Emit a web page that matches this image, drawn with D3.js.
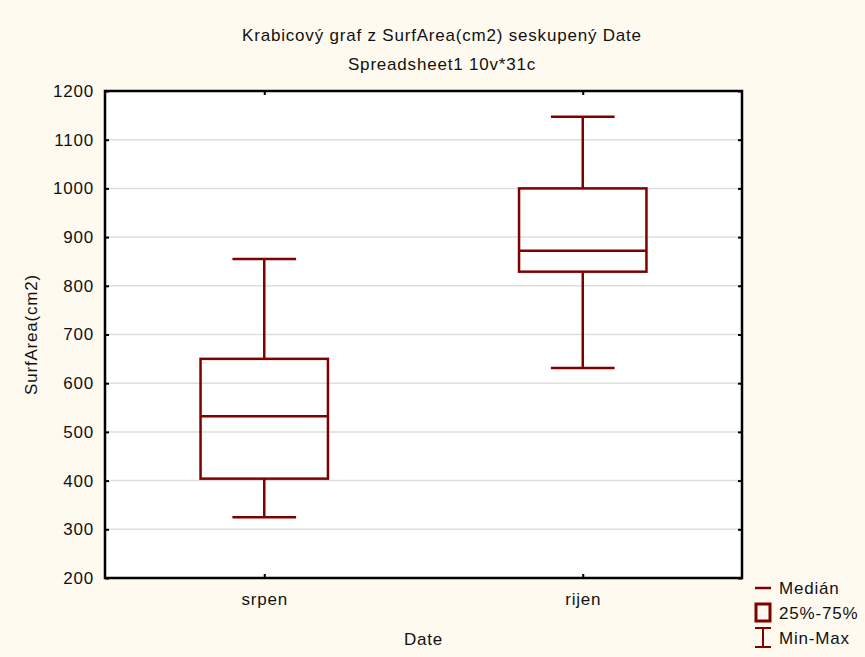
<!DOCTYPE html>
<html>
<head>
<meta charset="utf-8">
<script src="https://cdn.jsdelivr.net/npm/d3@7"></script>
<style>
  body { margin: 0; background: #fefaf0; }
  text { font-family: "Liberation Sans", Arial, sans-serif; fill: #111; letter-spacing: 0.8px; }
</style>
</head>
<body>
<div id="chart"></div>
<script>
// data
const categories = ["srpen", "rijen"]
const minVals = [325, 631]
const q1Vals = [404, 829]
const medianVals = [532, 872]
const q3Vals = [650, 1000]
const maxVals = [855, 1147]
const yTicks = [200, 300, 400, 500, 600, 700, 800, 900, 1000, 1100, 1200]
const legendItems = ["Medián", "25%-75%", "Min-Max"]

const width = 865, height = 657
const margin = {top: 91, right: 123, bottom: 79, left: 105}
const boxColor = "#800000"
const fontSize = "17px"

const svg = d3.select("#chart")
  .append("svg")
    .attr("width", width)
    .attr("height", height)

svg.append("rect")
  .attr("width", width).attr("height", height)
  .attr("fill", "#fefaf0")

const x = d3.scalePoint()
  .domain(categories)
  .range([margin.left, width - margin.right])
  .padding(0.5)

const y = d3.scaleLinear()
  .domain([200, 1200])
  .range([height - margin.bottom, margin.top])

const plotW = width - margin.left - margin.right

// plot area
svg.append("rect")
  .attr("x", margin.left).attr("y", margin.top)
  .attr("width", plotW)
  .attr("height", height - margin.top - margin.bottom)
  .attr("fill", "#fff")

// gridlines
svg.append("g")
  .selectAll("line")
  .data(yTicks.slice(1, -1))
  .join("line")
    .attr("x1", margin.left).attr("x2", width - margin.right)
    .attr("y1", d => y(d)).attr("y2", d => y(d))
    .attr("stroke", "#dedede")
    .attr("stroke-width", 1.5)

// axes, ticks pointing inwards
const yAxisL = svg.append("g")
  .attr("transform", `translate(${margin.left},0)`)
  .call(d3.axisLeft(y).tickValues(yTicks).tickFormat(d3.format("d")).tickSize(-4).tickPadding(11))
const yAxisR = svg.append("g")
  .attr("transform", `translate(${width - margin.right},0)`)
  .call(d3.axisRight(y).tickValues(yTicks).tickSize(-4).tickFormat(""))
const xAxisB = svg.append("g")
  .attr("transform", `translate(0,${height - margin.bottom})`)
  .call(d3.axisBottom(x).tickSize(-4).tickPadding(15))
const xAxisT = svg.append("g")
  .attr("transform", `translate(0,${margin.top})`)
  .call(d3.axisTop(x).tickSize(-4).tickFormat(""))

;[yAxisL, yAxisR, xAxisB, xAxisT].forEach(a => {
  a.select(".domain").remove()
  a.selectAll(".tick line").attr("stroke", "#000").attr("stroke-width", 2)
  a.selectAll("text")
    .style("font-size", fontSize)
    .style("font-family", "'Liberation Sans', Arial, sans-serif")
    .attr("fill", "#111")
})

// frame
svg.append("rect")
  .attr("x", margin.left).attr("y", margin.top)
  .attr("width", plotW)
  .attr("height", height - margin.top - margin.bottom)
  .attr("fill", "none")
  .attr("stroke", "#000")
  .attr("stroke-width", 2.5)

// boxes
const boxW = plotW * 0.2
const capW = boxW / 2
const g = svg.append("g")
  .selectAll("g")
  .data(categories.map((c, i) => ({c, min: minVals[i], q1: q1Vals[i], med: medianVals[i], q3: q3Vals[i], max: maxVals[i]})))
  .join("g")
    .attr("stroke", boxColor)
    .attr("stroke-width", 2.5)

g.append("line") // upper whisker
  .attr("x1", d => x(d.c)).attr("x2", d => x(d.c))
  .attr("y1", d => y(d.max)).attr("y2", d => y(d.q3))
g.append("line") // lower whisker
  .attr("x1", d => x(d.c)).attr("x2", d => x(d.c))
  .attr("y1", d => y(d.q1)).attr("y2", d => y(d.min))
g.append("line")
  .attr("x1", d => x(d.c) - capW / 2).attr("x2", d => x(d.c) + capW / 2)
  .attr("y1", d => y(d.max)).attr("y2", d => y(d.max))
g.append("line")
  .attr("x1", d => x(d.c) - capW / 2).attr("x2", d => x(d.c) + capW / 2)
  .attr("y1", d => y(d.min)).attr("y2", d => y(d.min))
g.append("rect")
  .attr("x", d => x(d.c) - boxW / 2)
  .attr("y", d => y(d.q3))
  .attr("width", boxW)
  .attr("height", d => y(d.q1) - y(d.q3))
  .attr("fill", "none")
g.append("line")
  .attr("x1", d => x(d.c) - boxW / 2).attr("x2", d => x(d.c) + boxW / 2)
  .attr("y1", d => y(d.med)).attr("y2", d => y(d.med))

// titles
svg.append("text")
  .attr("x", 442).attr("y", 41)
  .attr("text-anchor", "middle")
  .style("font-size", fontSize)
  .text("Krabicový graf  z SurfArea(cm2) seskupený Date")
svg.append("text")
  .attr("x", 442).attr("y", 70)
  .attr("text-anchor", "middle")
  .style("font-size", fontSize)
  .text("Spreadsheet1 10v*31c")

// axis labels
svg.append("text")
  .attr("x", (margin.left + width - margin.right) / 2)
  .attr("y", 645)
  .attr("text-anchor", "middle")
  .style("font-size", fontSize)
  .text("Date")
svg.append("text")
  .attr("transform", `translate(37,${(margin.top + height - margin.bottom) / 2}) rotate(-90)`)
  .attr("text-anchor", "middle")
  .style("font-size", fontSize)
  .text("SurfArea(cm2)")

// legend
const leg = svg.append("g").attr("transform", "translate(755,588)")
const legG = leg.selectAll("g")
  .data(legendItems)
  .join("g")
    .attr("transform", (d, i) => `translate(0,${i * 25})`)
legG.append("text")
  .attr("x", 24).attr("y", 6)
  .style("font-size", fontSize)
  .text(d => d)

leg.append("line")
  .attr("x1", 0).attr("x2", 16).attr("y1", 0).attr("y2", 0)
  .attr("stroke", boxColor).attr("stroke-width", 2.5)
leg.append("rect")
  .attr("x", 1).attr("y", 16).attr("width", 14).attr("height", 17)
  .attr("fill", "none").attr("stroke", boxColor).attr("stroke-width", 3)
const mm = leg.append("g").attr("stroke", boxColor).attr("stroke-width", 2)
mm.append("line").attr("x1", 0).attr("x2", 16).attr("y1", 40).attr("y2", 40)
mm.append("line").attr("x1", 0).attr("x2", 16).attr("y1", 59).attr("y2", 59)
mm.append("line").attr("x1", 8).attr("x2", 8).attr("y1", 40).attr("y2", 59)
</script>
</body>
</html>
